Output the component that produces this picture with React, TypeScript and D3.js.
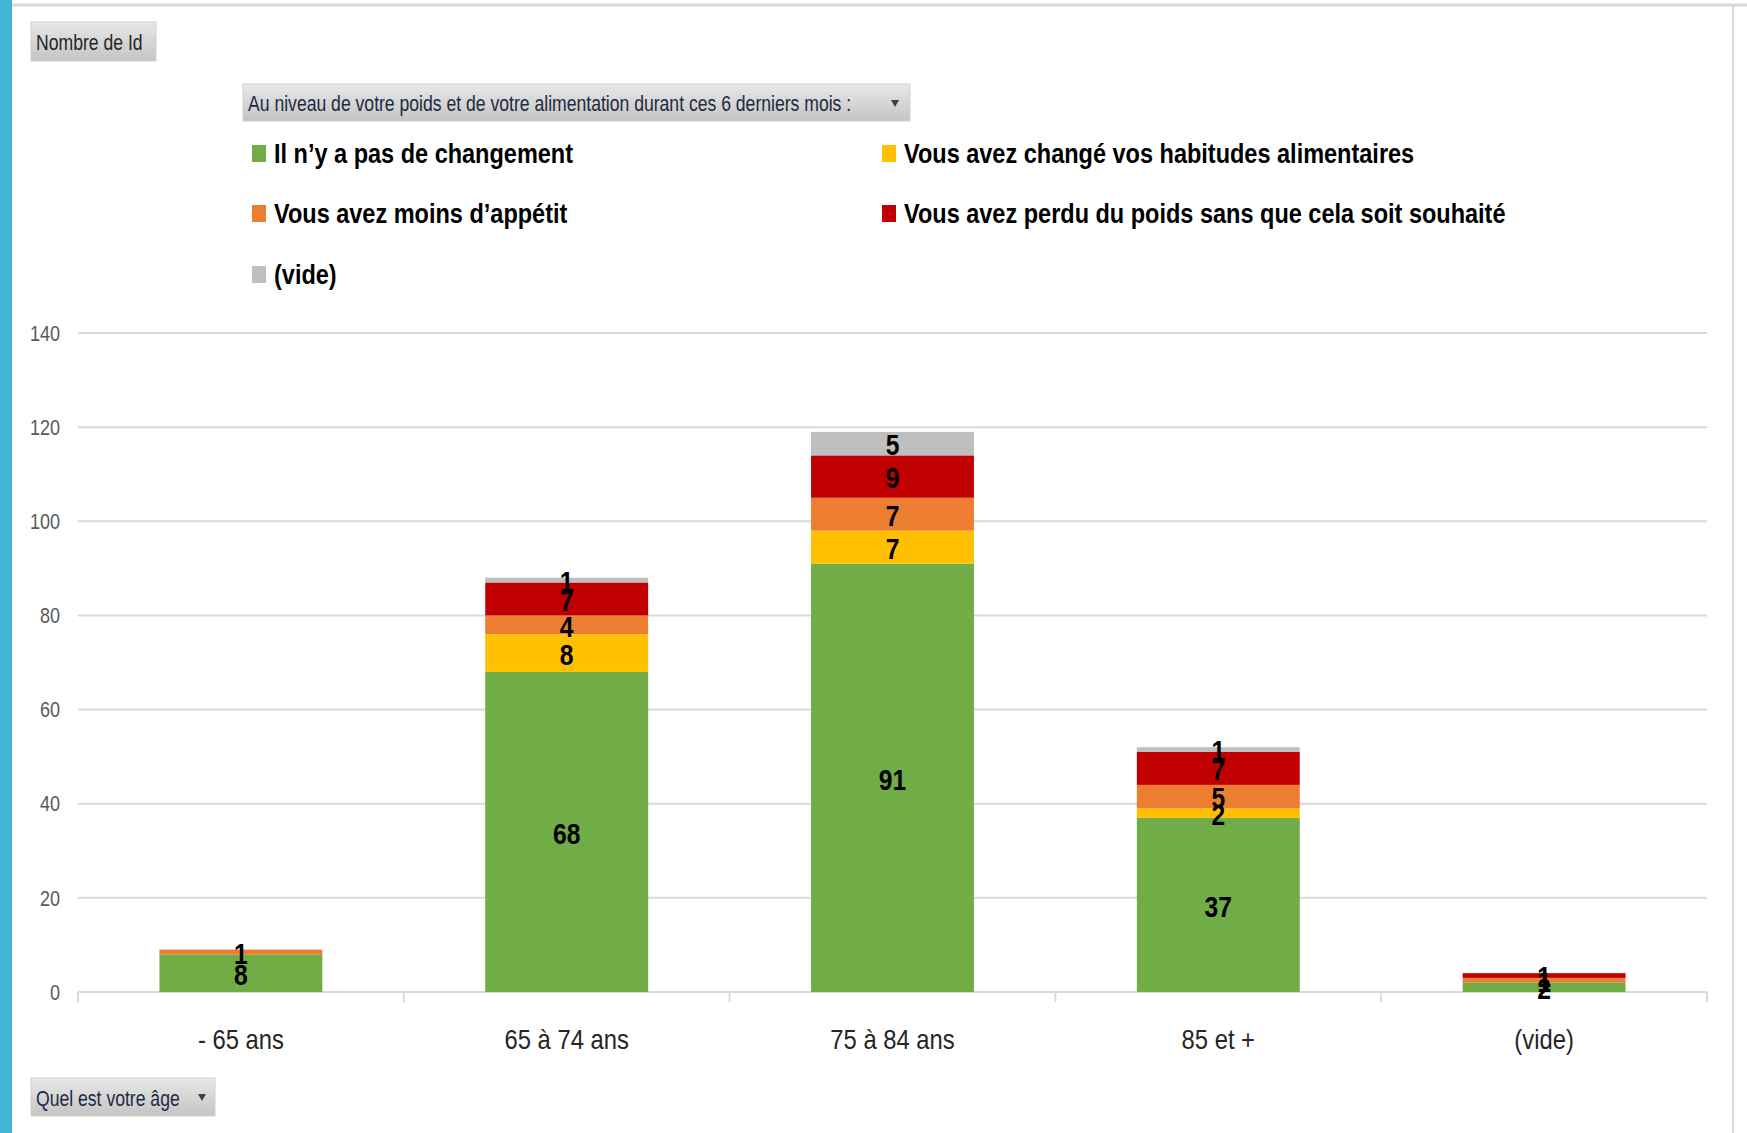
import React from "react";
import * as d3 from "d3";

const categories = ["- 65 ans", "65 à 74 ans", "75 à 84 ans", "85 et +", "(vide)"];
const seriesNames = [
  "Il n’y a pas de changement",
  "Vous avez changé vos habitudes alimentaires",
  "Vous avez moins d’appétit",
  "Vous avez perdu du poids sans que cela soit souhaité",
  "(vide)",
];
const seriesColors = ["#70AD47", "#FFC000", "#ED7D31", "#C00000", "#BFBFBF"];
const pasDeChangement = [8, 68, 91, 37, 2];
const habitudes = [0, 8, 7, 2, 0];
const moinsAppetit = [1, 4, 7, 5, 1];
const perduPoids = [0, 7, 9, 7, 1];
const videSerie = [0, 1, 5, 1, 0];
const yTicks = [0, 20, 40, 60, 80, 100, 120, 140];

const W = 1747;
const H = 1133;
const FONT = "'Liberation Sans', Arial, sans-serif";

function T(props: any) {
  const { x, y, sx, children, ...rest } = props;
  return (
    <text
      transform={`translate(${x},${y}) scale(${sx},1)`}
      fontFamily={FONT}
      dominantBaseline="central"
      {...rest}
    >
      {children}
    </text>
  );
}

export default function App() {
  const values = [pasDeChangement, habitudes, moinsAppetit, perduPoids, videSerie];
  const rows = categories.map((c, i) => {
    const r: any = { cat: c };
    values.forEach((v, s) => (r["s" + s] = v[i]));
    return r;
  });
  const keys = values.map((_, s) => "s" + s);
  const stacked = d3.stack().keys(keys)(rows);

  const x0 = 78, x1 = 1707, yTop = 333, yBot = 992;
  const x = d3.scaleBand().domain(categories).range([x0, x1]).paddingInner(0.5).paddingOuter(0.25);
  const y = d3.scaleLinear().domain([0, 140]).range([yBot, yTop]);
  const step = (x1 - x0) / categories.length;

  const legendPos = [
    { x: 252, y: 153 },
    { x: 882, y: 153 },
    { x: 252, y: 213 },
    { x: 882, y: 213 },
    { x: 252, y: 274 },
  ];

  return (
    <svg width={W} height={H} style={{ position: "absolute", left: 0, top: 0, background: "#fff" }}>
      <defs>
        <linearGradient id="btn" x1="0" y1="0" x2="0" y2="1">
          <stop offset="0" stopColor="#e8e8e8" />
          <stop offset="1" stopColor="#c4c4c4" />
        </linearGradient>
      </defs>
      <rect x={0} y={0} width={W} height={H} fill="#fff" />
      {/* frame */}
      <rect x={0} y={0} width={12} height={H} fill="#41B7D3" />
      <line x1={12} x2={W} y1={5} y2={5} stroke="#d9d9d9" strokeWidth={3} />
      <line x1={1733} x2={1733} y1={5} y2={H} stroke="#d9d9d9" strokeWidth={2} />

      {/* Nombre de Id button */}
      <rect x={31} y={22} width={125} height={39} fill="url(#btn)" stroke="#d0d0d0" />
      <T x={36} y={42} sx={0.8} fontSize={22} fill="#262626">
        Nombre de Id
      </T>

      {/* series filter button */}
      <rect x={243} y={84} width={667} height={37} fill="url(#btn)" stroke="#d0d0d0" />
      <T x={248} y={103} sx={0.8} fontSize={22} fill="#1f2a44">
        Au niveau de votre poids et de votre alimentation durant ces 6 derniers mois :
      </T>
      <path d="M891,100 L899,100 L895,107 Z" fill="#404040" />

      {/* legend */}
      {seriesNames.map((n, i) => (
        <g key={n}>
          <rect x={legendPos[i].x} y={legendPos[i].y - 8} width={14} height={17} fill={seriesColors[i]} />
          <T x={legendPos[i].x + 22} y={legendPos[i].y} sx={0.825} fontSize={28.5} fontWeight="bold" fill="#000">
            {n}
          </T>
        </g>
      ))}

      {/* gridlines */}
      {yTicks.map((t) => (
        <g key={t}>
          <line x1={x0} x2={x1} y1={y(t)} y2={y(t)} stroke="#d9d9d9" strokeWidth={2} />
          <T x={60} y={y(t)} sx={0.82} textAnchor="end" fontSize={22} fill="#595959">
            {t}
          </T>
        </g>
      ))}
      {/* category ticks */}
      {d3.range(categories.length + 1).map((i) => (
        <line key={i} x1={x0 + i * step} x2={x0 + i * step} y1={yBot} y2={yBot + 10} stroke="#d9d9d9" strokeWidth={2} />
      ))}

      {/* bars */}
      {stacked.map((layer, s) => (
        <g key={s}>
          {layer.map((d: any, i) =>
            d[1] - d[0] > 0 ? (
              <rect
                key={i}
                x={x(categories[i])}
                y={y(d[1])}
                width={x.bandwidth()}
                height={y(d[0]) - y(d[1])}
                fill={seriesColors[s]}
              />
            ) : null
          )}
        </g>
      ))}
      {/* data labels */}
      {stacked.map((layer, s) => (
        <g key={"l" + s}>
          {layer.map((d: any, i) =>
            d[1] - d[0] > 0 ? (
              <T
                key={i}
                x={(x(categories[i]) as number) + x.bandwidth() / 2}
                y={y((d[0] + d[1]) / 2) + 2}
                sx={0.85}
                textAnchor="middle"
                fontSize={29}
                fontWeight="bold"
                fill="#000"
              >
                {d[1] - d[0]}
              </T>
            ) : null
          )}
        </g>
      ))}

      {/* x labels */}
      {categories.map((c) => (
        <T
          key={c}
          x={(x(c) as number) + x.bandwidth() / 2}
          y={1039}
          sx={0.85}
          textAnchor="middle"
          fontSize={28}
          fill="#262626"
        >
          {c}
        </T>
      ))}

      {/* age filter button */}
      <rect x={31} y={1078} width={184} height={38} fill="url(#btn)" stroke="#d0d0d0" />
      <T x={36} y={1098} sx={0.8} fontSize={22} fill="#1f2a44">
        Quel est votre âge
      </T>
      <path d="M198,1094 L206,1094 L202,1101 Z" fill="#404040" />
    </svg>
  );
}
